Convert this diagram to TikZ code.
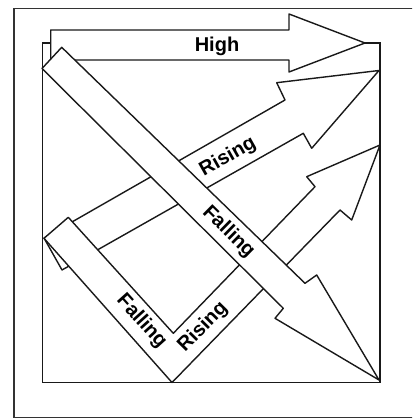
\documentclass[tikz,border=0pt]{standalone}
\usepackage{fontspec}
\setsansfont{Liberation Sans}

\begin{document}
\begin{tikzpicture}[
  x=1pt, y=-1pt,
  every node/.style={font=\sffamily\bfseries\fontsize{20}{20}\selectfont, inner sep=0pt},
  band/.style={draw=black!90, fill=white, line width=1.4pt, line join=round},
  box/.style={draw=black!90, line width=1.7pt},
  frame/.style={draw=black!80, line width=1.9pt}
]
\useasboundingbox (0,0) rectangle (412,419);
\clip (0,0) rectangle (412,419);
\draw[frame] (420,8.5) -- (14,8.5) -- (14,417.5) -- (420,417.5);
\draw[box] (42.5,43) rectangle (380,382.5);

\draw[band] (50.7,30) -- (289,30) -- (289,14) -- (365,43) -- (289,72) -- (289,60) -- (50.7,60) -- cycle;
\draw[band] (44,238) -- (285,100) -- (276.7,82.7) -- (379,70.5) -- (311.7,148.3) -- (303.3,133.3) -- (62,270) -- cycle;
\draw[band] (44,238.3) -- (68.3,217.3) -- (173.3,333.3) -- (315,186.7) -- (306.7,176.7) -- (380,145)
  -- (351.7,220) -- (340,210) -- (172,382.5) -- cycle;
\draw[band] (61.7,47.3) -- (305,283.3) -- (316.7,275) -- (379,380) -- (275,318.3) -- (283.3,308.3) -- (42,68.5) -- cycle;

\node (high) at (217,46) {High};
\node[rotate=29.5] (rising) at (228,157) {Rising};
\node[rotate=-44.5] (falling) at (228.5,232) {Falling};
\node[rotate=-48] (fallpart) at (141.5,321.5) {Falling};
\node[rotate=45.5] (risepart) at (203,327) {Rising};
\end{tikzpicture}
\end{document}
